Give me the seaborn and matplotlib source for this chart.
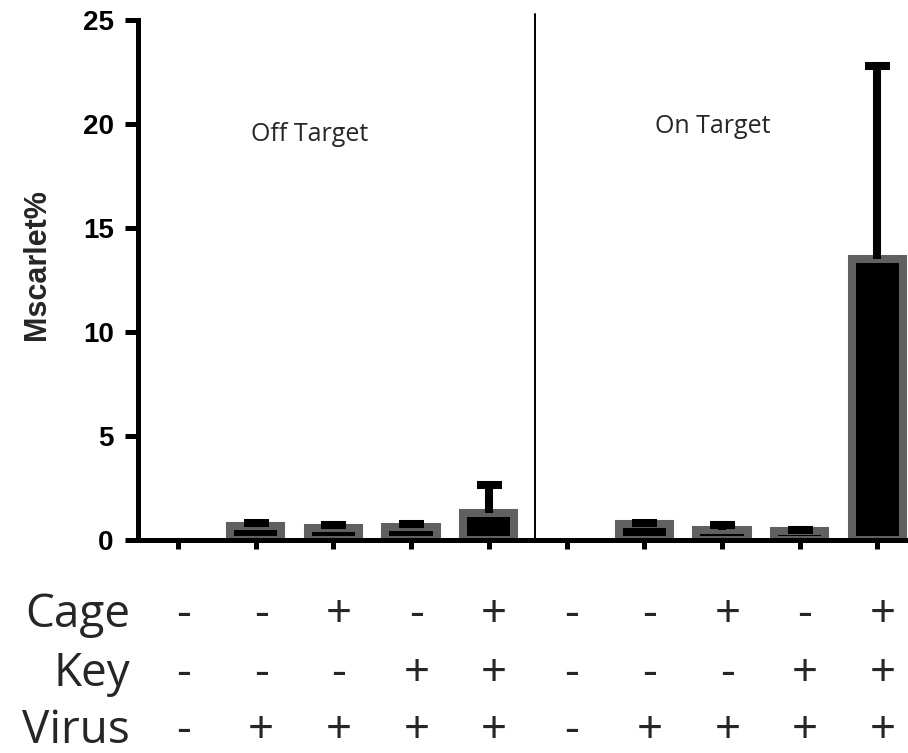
import numpy as np
import pandas as pd
import matplotlib
matplotlib.use("Agg")
import matplotlib.pyplot as plt
import matplotlib.transforms as mtransforms
import seaborn as sns

# Mscarlet% per condition (mean and upper SD)
conditions = ["c1", "c2", "c3", "c4", "c5", "c6", "c7", "c8", "c9", "c10"]
mscarlet = [0, 0.65, 0.56, 0.62, 1.30, 0, 0.76, 0.48, 0.42, 13.5]
err_up = [0, 0.17, 0.18, 0.16, 1.33, 0, 0.04, 0.22, 0.08, 9.3]

cage = ["-", "-", "+", "-", "+", "-", "-", "+", "-", "+"]
key = ["-", "-", "-", "+", "+", "-", "-", "-", "+", "+"]
virus = ["-", "+", "+", "+", "+", "-", "+", "+", "+", "+"]
row_names = ["Cage", "Key", "Virus"]

group_labels = ["Off Target", "On Target"]
yticks = [0, 5, 10, 15, 20, 25]

sns.set_theme(style="ticks")
plt.rcParams["font.family"] = ["Liberation Sans", "DejaVu Sans"]

W, H = 908, 753
fig = plt.figure(figsize=(W / 100, H / 100), dpi=100)
ax = fig.add_axes([138 / W, (H - 540) / H, 1 - 138 / W, 520 / H])

df = pd.DataFrame({"condition": conditions, "mscarlet": mscarlet})
sns.barplot(data=df, x="condition", y="mscarlet", color="black",
            edgecolor="#606060", linewidth=5.8, width=0.66,
            saturation=1, errorbar=None, ax=ax)
# empty bars are not drawn
for patch in ax.patches:
    if patch.get_height() == 0:
        patch.set_linewidth(0)

vals = np.array(mscarlet)
errs = np.array(err_up)
xpos = np.arange(len(conditions))
m = vals > 0
_, caps, _ = ax.errorbar(xpos[m], vals[m], yerr=[np.zeros(m.sum()), errs[m]],
                         fmt="none", ecolor="black", elinewidth=5.8,
                         capsize=9, capthick=5.8, zorder=3)
caps[0].set_visible(False)  # only upper caps

ax.set_xlim(-0.515, 9.395)
ax.set_ylim(0, 25)
ax.set_yticks(yticks)
ax.set_yticklabels([str(t) for t in yticks], fontsize=20, fontweight="bold")
ax.set_xticks(xpos)
ax.set_xticklabels([])
ax.set_xlabel("")
ax.set_ylabel("Mscarlet%", fontsize=22, fontweight="bold")
ax.yaxis.set_label_coords(-0.112, 0.529)

ax.tick_params(axis="y", length=9.4, width=3.6, pad=8, colors="black")
ax.tick_params(axis="x", length=6.5, width=3.6, colors="black")
sns.despine(ax=ax)
for side in ["left", "bottom"]:
    ax.spines[side].set_linewidth(3.6)
    ax.spines[side].set_color("black")

# separator between the two groups
sep = 4.6
ax.plot([sep, sep], [0, 25.3], color="black", lw=1.4, clip_on=False, zorder=1)

ax.text(1.7, 19.5, group_labels[0], family="Open Sans", fontsize=18,
        ha="center", va="center")
ax.text(6.88, 19.9, group_labels[1], family="Open Sans", fontsize=18,
        ha="center", va="center")

# condition table under the axis
trans = mtransforms.blended_transform_factory(ax.transData, fig.transFigure)
baselines = [627, 686, 743]
for name, signs, base in zip(row_names, [cage, key, virus], baselines):
    y = 1 - base / H
    fig.text(130 / W, y, name, family="Open Sans", fontsize=33,
             ha="right", va="baseline")
    for i, s in enumerate(signs):
        ax.text(i + 0.07, y, s, transform=trans, family="Open Sans",
                fontsize=33, ha="center", va="baseline")

fig.savefig("out.png", dpi=100)
